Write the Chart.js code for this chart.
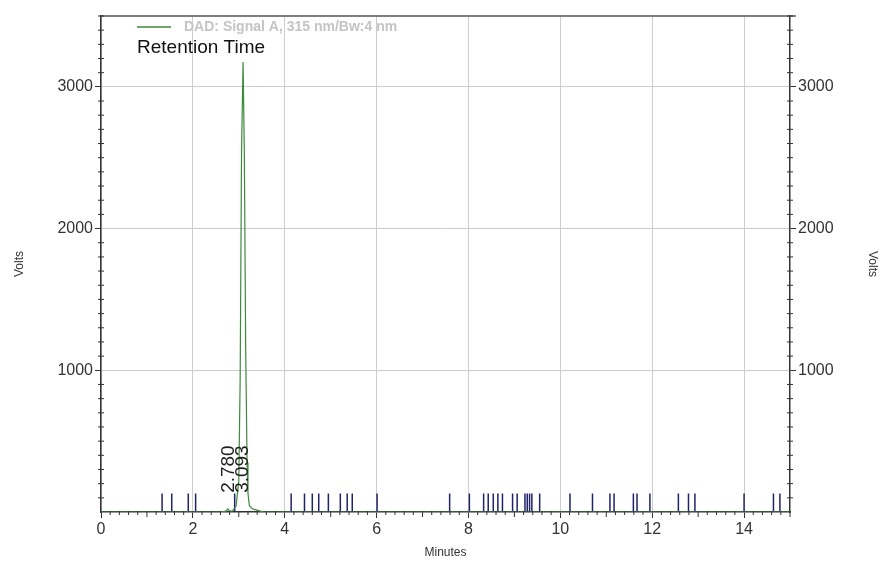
<!DOCTYPE html>
<html>
<head>
<meta charset="utf-8">
<script src="https://cdn.jsdelivr.net/npm/chart.js@4.4.1/dist/chart.umd.min.js"></script>
<style>
  html, body { margin: 0; padding: 0; background: #fff; }
  #chart { display: block; }
</style>
</head>
<body>
<canvas id="chart" width="880" height="562"></canvas>
<script>
// chromatogram trace (minutes, volts)
const signalTimes  = [0, 2.60, 2.72, 2.76, 2.80, 2.86, 2.94, 3.00, 3.03, 3.06, 3.093, 3.12, 3.15, 3.18, 3.20, 3.23, 3.30, 3.45, 3.55, 15];
const signalValues = [0, 0,    6,    22,   8,    6,    40,   220,  950,  2550, 3175,  2550, 1150, 350,  130,  45,   22,   8,    0,    0];

// integration / event marks along the baseline (minutes)
const eventTimes = [1.33, 1.54, 1.90, 2.06, 2.91, 4.14, 4.43, 4.60, 4.74, 4.95, 5.21, 5.36, 5.47, 6.01,
  7.59, 8.02, 8.33, 8.43, 8.54, 8.64, 8.74, 8.96, 9.06, 9.23, 9.28, 9.33, 9.38, 9.55,
  10.21, 10.70, 11.08, 11.17, 11.59, 11.67, 11.95, 12.57, 12.79, 12.93, 14.00, 14.64, 14.78];
const eventHeight = 130;

// retention time labels
const peakTimes = [2.780, 3.093];
const peakLabels = ["2.780", "3.093"];

const xTickValues = [0, 2, 4, 6, 8, 10, 12, 14];
const yTickValues = [1000, 2000, 3000];

const legendLabel = "DAD: Signal A, 315 nm/Bw:4 nm";
const annotationTitle = "Retention Time";

const signalData = signalTimes.map((t, i) => ({ x: t, y: signalValues[i] }));
const eventData = eventTimes.flatMap((t) => [{ x: t, y: 0 }, { x: t, y: eventHeight }, { x: t, y: null }]);

const axisColor = "#333";
const gridColor = "#cdcdcd";
const tickFont = { family: "Arial, 'Liberation Sans', sans-serif", size: 16 };
const titleFont = { family: "Arial, 'Liberation Sans', sans-serif", size: 12 };
const plainNumber = (v) => String(v);

const decorations = {
  id: "decorations",
  afterDraw(chart) {
    const { ctx, chartArea } = chart;
    const xs = chart.scales.x;
    const ys = chart.scales.y;
    ctx.save();

    // top frame line
    ctx.strokeStyle = "#555";
    ctx.lineWidth = 1.5;
    ctx.beginPath();
    ctx.moveTo(chartArea.left, chartArea.top);
    ctx.lineTo(chartArea.right + 6, chartArea.top);
    ctx.stroke();

    // minor ticks
    ctx.strokeStyle = axisColor;
    ctx.lineWidth = 1;
    ctx.beginPath();
    for (let i = 0; i <= 75; i++) {
      if (i % 10 === 0) continue;
      const px = xs.getPixelForValue(i / 5);
      const len = i % 5 === 0 ? 5 : 3;
      ctx.moveTo(px, chartArea.bottom - 1);
      ctx.lineTo(px, chartArea.bottom + len);
    }
    for (let i = 0; i <= 35; i++) {
      if (i % 10 === 0) continue;
      const py = ys.getPixelForValue(i * 100);
      ctx.moveTo(chartArea.left - 3, py);
      ctx.lineTo(chartArea.left + 3, py);
      ctx.moveTo(chartArea.right - 3, py);
      ctx.lineTo(chartArea.right + 3, py);
    }
    ctx.stroke();

    // legend
    const ly = chartArea.top + 11;
    ctx.strokeStyle = "#3c8a3c";
    ctx.lineWidth = 1.5;
    ctx.beginPath();
    ctx.moveTo(chartArea.left + 36, ly);
    ctx.lineTo(chartArea.left + 70, ly);
    ctx.stroke();
    ctx.fillStyle = "#c4c4c4";
    ctx.font = "bold 14px Arial, 'Liberation Sans', sans-serif";
    ctx.textBaseline = "middle";
    ctx.textAlign = "left";
    ctx.fillText(legendLabel, chartArea.left + 83, ly);

    ctx.fillStyle = "#111";
    ctx.font = "19px Arial, 'Liberation Sans', sans-serif";
    ctx.textBaseline = "alphabetic";
    ctx.fillText(annotationTitle, chartArea.left + 36, chartArea.top + 37);

    // retention time labels
    ctx.fillStyle = "#222";
    ctx.font = "19px Arial, 'Liberation Sans', sans-serif";
    ctx.textAlign = "left";
    ctx.textBaseline = "middle";
    peakTimes.forEach((t, i) => {
      const px = xs.getPixelForValue(t);
      const py = ys.getPixelForValue(eventHeight + 5);
      ctx.save();
      ctx.translate(px, py);
      ctx.rotate(-Math.PI / 2);
      ctx.fillText(peakLabels[i], 0, 0);
      ctx.restore();
    });
    ctx.restore();
  }
};

new Chart(document.getElementById("chart"), {
  type: "line",
  data: {
    datasets: [
      {
        label: legendLabel,
        data: signalData,
        borderColor: "#3c8a3c",
        borderWidth: 1.2,
        pointRadius: 0,
        tension: 0,
        order: 1
      },
      {
        label: "events",
        data: eventData,
        borderColor: "#22226a",
        borderWidth: 1.5,
        pointRadius: 0,
        spanGaps: false,
        order: 2
      }
    ]
  },
  options: {
    responsive: false,
    animation: false,
    layout: { padding: { top: 16, left: 0, right: 0, bottom: 0 } },
    plugins: {
      legend: { display: false },
      tooltip: { enabled: false }
    },
    scales: {
      x: {
        type: "linear",
        position: "bottom",
        min: 0,
        max: 15,
        afterFit: (s) => { s.height = 50; },
        afterBuildTicks: (s) => { s.ticks = xTickValues.map((v) => ({ value: v })); },
        ticks: { color: axisColor, font: tickFont, padding: 2, maxRotation: 0, callback: plainNumber },
        grid: { color: gridColor, tickColor: axisColor, tickLength: 6 },
        border: { color: axisColor, width: 1.5 },
        title: { display: true, text: "Minutes", color: axisColor, font: titleFont, padding: { top: 0, bottom: 2 } }
      },
      y: {
        type: "linear",
        position: "left",
        min: 0,
        max: 3500,
        afterFit: (s) => { s.width = 101; },
        afterBuildTicks: (s) => { s.ticks = yTickValues.map((v) => ({ value: v })); },
        ticks: { color: axisColor, font: tickFont, padding: 2, callback: plainNumber },
        grid: { color: gridColor, tickColor: axisColor, tickLength: 6 },
        border: { color: axisColor, width: 1.5 },
        title: { display: true, text: "Volts", color: axisColor, font: titleFont, padding: { top: 12, bottom: 0 } }
      },
      y2: {
        type: "linear",
        position: "right",
        min: 0,
        max: 3500,
        afterFit: (s) => { s.width = 90; },
        afterBuildTicks: (s) => { s.ticks = yTickValues.map((v) => ({ value: v })); },
        ticks: { color: axisColor, font: tickFont, padding: 2, callback: plainNumber },
        grid: { drawOnChartArea: false, tickColor: axisColor, tickLength: 6 },
        border: { color: axisColor, width: 1.5 },
        title: { display: true, text: "Volts", color: axisColor, font: titleFont, padding: { top: 0, bottom: 4 } }
      }
    }
  },
  plugins: [decorations]
});
</script>
</body>
</html>
